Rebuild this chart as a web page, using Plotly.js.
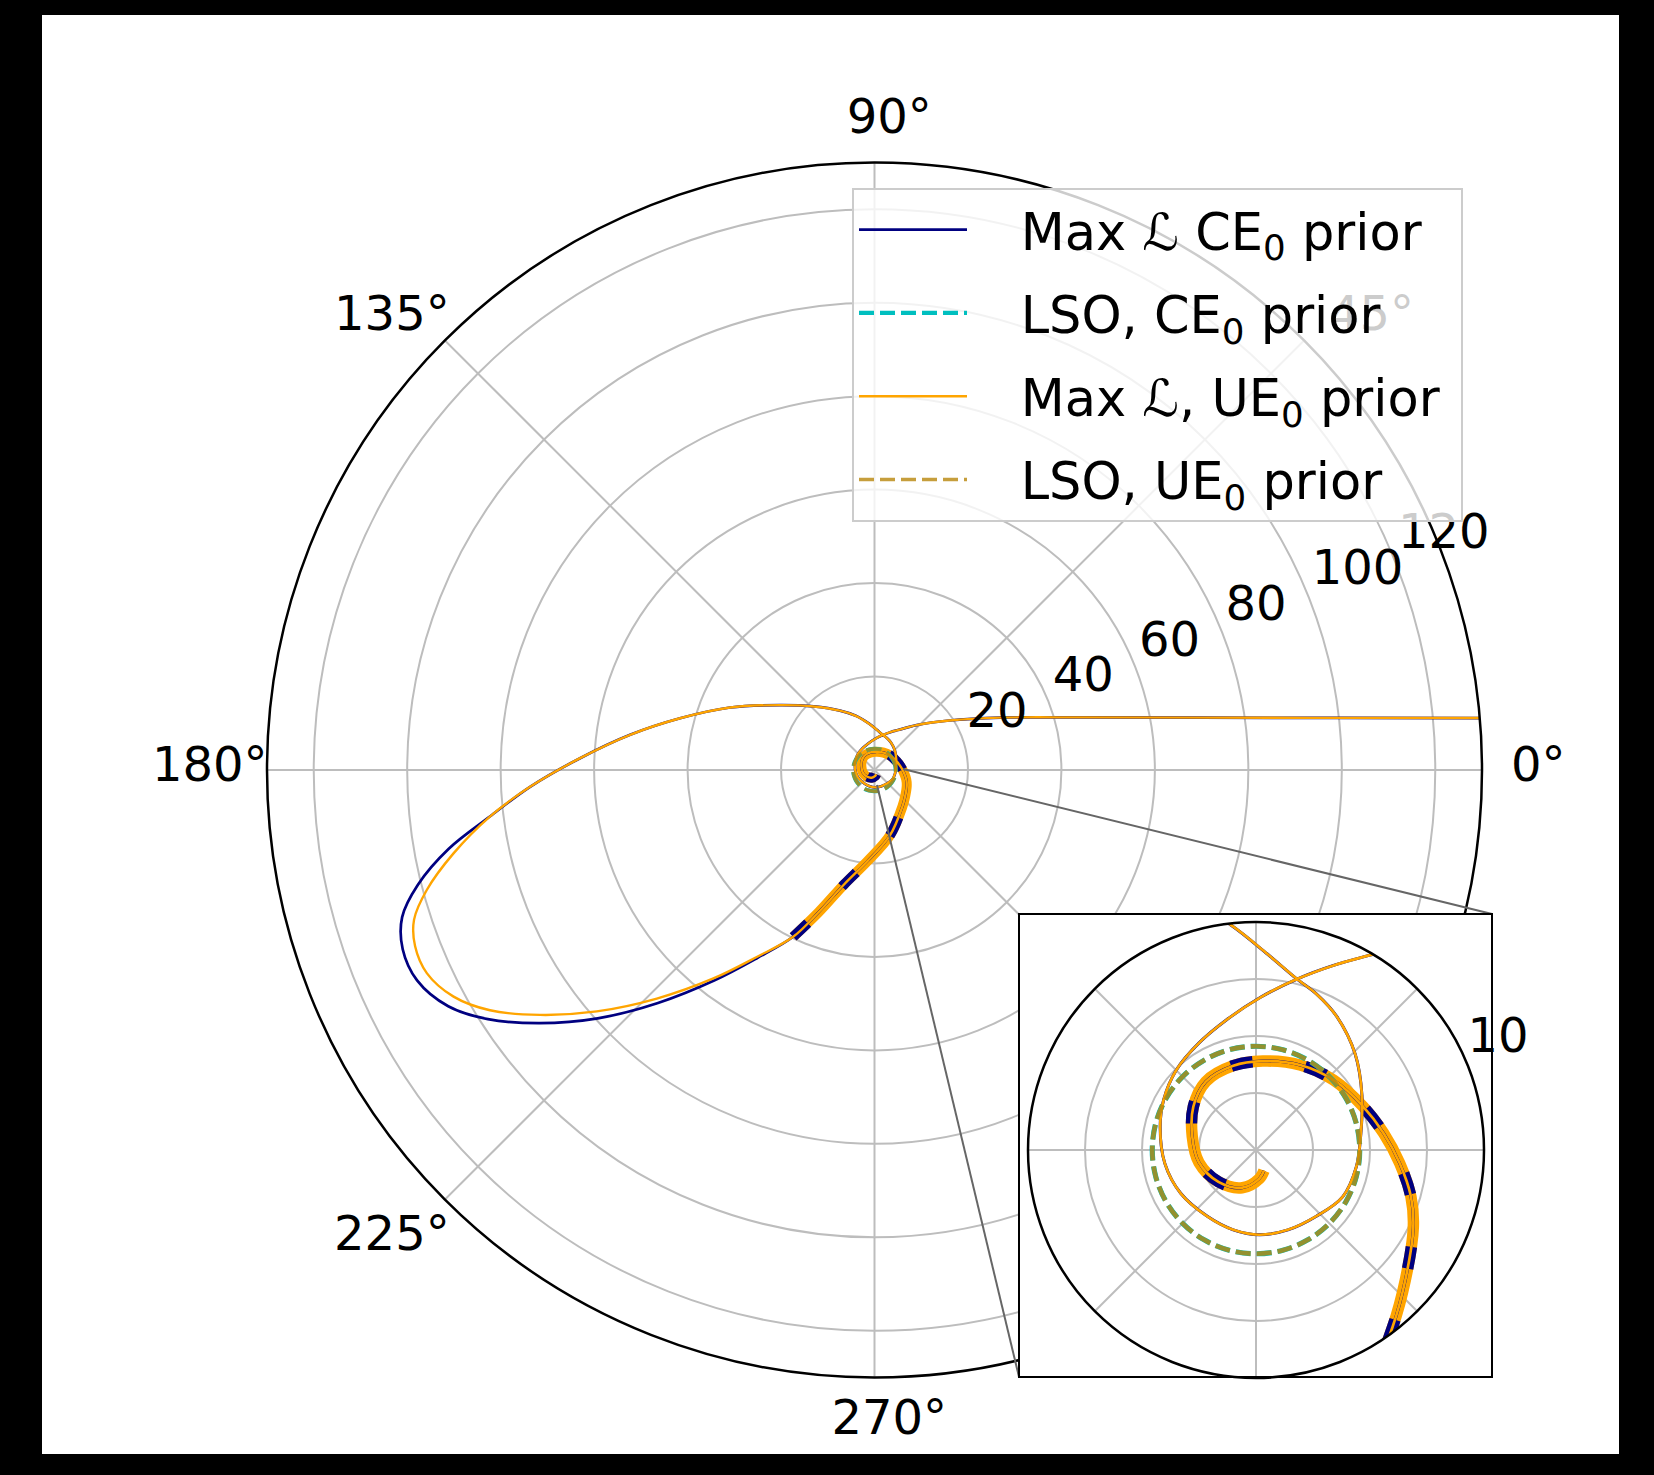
<!DOCTYPE html>
<html>
<head>
<meta charset="utf-8">
<script src="https://cdn.plot.ly/plotly-3.0.1.min.js"></script>
<style>
html,body{margin:0;padding:0;background:#000;}
#chart{width:1654px;height:1475px;}
</style>
</head>
<body>
<div id="chart"></div>
<script>
// ---------------- data (theta in degrees, r in chart units) ----------------
// incoming leg, zoom-whirl around the centre and start of the big excursion (shared by both fits)
const approachTheta = [4.83, 6.36, 9.09, 14.04, 22.53, 33.52, 46.85, 59.67, 67.23, 76.5, 88.29, 102.85, 118.0, 135.0, 151.5, 166.6, 188.5, 209.9, 233.4, 254.1, 272.3, 291.8, 312.4, 331.6, 350.3, 8.65, 27.3, 44.0, 58.75, 68.85, 76.5, 86.67, 96.63, 109.0, 120.2, 133.7, 145.5, 156.6, 165.1, 171.8, 177.7, 182.8];
const approachR = [132.0, 100.62, 70.89, 46.38, 29.23, 19.19, 13.16, 9.90, 8.78, 7.71, 6.70, 5.85, 5.32, 4.95, 4.61, 4.32, 4.04, 3.81, 3.61, 3.64, 3.72, 3.77, 3.93, 4.32, 4.46, 4.65, 5.23, 6.05, 6.84, 7.34, 7.71, 8.61, 9.97, 12.27, 14.70, 18.81, 24.52, 33.68, 43.06, 52.84, 63.05, 73.79];

// lower-left part of the big loop, UE0 prior fit
const loopUETheta = [186.9, 191.2, 195.0, 198.0, 201.0, 204.4, 208.3, 212.0, 216.2, 221.0, 226.4, 232.3, 237.8];
const loopUER = [82.91, 91.84, 99.19, 103.6, 105.3, 105.2, 102.3, 97.03, 88.73, 78.75, 67.55, 56.38, 47.28];

// lower-left part of the big loop, CE0 prior fit
const loopCETheta = [186.9, 190.5, 194.1, 197.3, 200.8, 204.7, 209.0, 212.8, 217.1, 221.9, 227.1, 232.7, 238.05];
const loopCER = [82.91, 92.71, 100.74, 105.87, 108.0, 107.74, 104.29, 98.43, 89.82, 79.58, 68.06, 56.64, 47.40];

// final plunge (drawn thick)
const plungeTheta = [244.0, 248.5, 255.1, 265.6, 283.3, 307.7, 319.0, 333.8, 343.2, 354.7, 7.4, 22.0, 42.1, 62.6, 85.6, 105.1, 126.3, 145.4, 167.9, 192.4, 220.3, 250.0, 276.8, 291.3];
const plungeR = [39.71, 32.78, 25.35, 19.56, 14.38, 9.80, 8.68, 7.69, 7.10, 6.33, 5.65, 5.07, 4.58, 4.20, 3.91, 3.83, 3.72, 3.34, 2.86, 2.56, 2.16, 1.76, 1.26, 0.97];

// last stable orbits
const lsoTheta = [0, 15, 30, 45, 60, 75, 90, 105, 120, 135, 150, 165, 180, 195, 210, 225, 240, 255, 270, 285, 300, 315, 330, 345, 360];
const lsoCER = [4.55, 4.55, 4.55, 4.55, 4.55, 4.55, 4.55, 4.55, 4.55, 4.55, 4.55, 4.55, 4.55, 4.55, 4.55, 4.55, 4.55, 4.55, 4.55, 4.55, 4.55, 4.55, 4.55, 4.55, 4.55];
const lsoUER = [4.55, 4.55, 4.55, 4.55, 4.55, 4.55, 4.55, 4.55, 4.55, 4.55, 4.55, 4.55, 4.55, 4.55, 4.55, 4.55, 4.55, 4.55, 4.55, 4.55, 4.55, 4.55, 4.55, 4.55, 4.55];

// axes
const angTicks = [0, 45, 90, 135, 180, 225, 270, 315];
const angLabels = ['0°', '45°', '90°', '135°', '180°', '225°', '270°', ''];
const radTicks = [20, 40, 60, 80, 100, 120];
const radLabels = ['20', '40', '60', '80', '100', '120'];
const insetRadTicks = [2.5, 5, 7.5, 10];
const insetRadLabels = ['', '', '', '10'];

const seriesNames = ['Max ℒ CE<sub>0</sub> prior', 'LSO, CE<sub>0</sub> prior', 'Max ℒ, UE<sub>0</sub> prior', 'LSO, UE<sub>0</sub> prior'];

// ---------------- build traces ----------------
const ceTheta = approachTheta.concat(loopCETheta, plungeTheta);
const ceR = approachR.concat(loopCER, plungeR);
const ueTheta = approachTheta.concat(loopUETheta, plungeTheta);
const ueR = approachR.concat(loopUER, plungeR);

const NAVY = '#000080', CYAN = '#00bfbf', ORANGE = '#ffa500', GOLD = '#b8860b';
const FONT = 'DejaVu Sans, Verdana, sans-serif';
const PAD = '\u00a0\u00a0\u00a0';
const TAIL = '\u00a0';
// labels are right-aligned by Plotly; pad the short ones so all read left-aligned like the original
const radTickText = radLabels.map(t => t.length < 3 ? t + '\u00a0\u00a0' : t);

function makeSet(sub, main) {
  const thin = main ? 2.4 : 2.7;
  const thick = main ? 10 : 11.5;
  const lsoW = main ? 3.6 : 4.6;
  const dashT = main ? '20px,50px' : '22px,53px';
  const common = {type: 'scatterpolar', mode: 'lines', subplot: sub, hoverinfo: 'skip'};
  return [
    Object.assign({}, common, {r: plungeR, theta: plungeTheta, showlegend: false,
      line: {color: ORANGE, width: thick, shape: 'spline'}}),
    Object.assign({}, common, {r: plungeR, theta: plungeTheta, showlegend: false,
      line: {color: NAVY, width: thick, dash: dashT, shape: 'spline'}}),
    Object.assign({}, common, {r: ceR, theta: ceTheta, name: PAD + seriesNames[0] + TAIL, showlegend: main, legendgroup: 'a',
      line: {color: NAVY, width: thin + 0.3, shape: 'spline'}}),
    Object.assign({}, common, {r: lsoCER, theta: lsoTheta, name: PAD + seriesNames[1] + TAIL, showlegend: main, legendgroup: 'b',
      line: {color: CYAN, width: lsoW + 0.6, dash: '15px,6px', shape: 'spline'}}),
    Object.assign({}, common, {r: ueR, theta: ueTheta, name: PAD + seriesNames[2] + TAIL, showlegend: main, legendgroup: 'c',
      line: {color: ORANGE, width: thin, shape: 'spline'}}),
    Object.assign({}, common, {r: lsoUER, theta: lsoTheta, name: PAD + seriesNames[3] + TAIL, showlegend: main, legendgroup: 'd',
      opacity: 0.8, line: {color: GOLD, width: lsoW, dash: '15px,6px', shape: 'spline'}})
  ];
}

const coverTrace = {type: 'scatterpolar', mode: 'markers', subplot: 'polar2', r: [0], theta: [0],
  showlegend: false, hoverinfo: 'skip', cliponaxis: false,
  marker: {symbol: 'square', size: 474, color: '#ffffff', line: {width: 0}}};

// anchor traces so the label-only overlay subplots get drawn
function anchor(sub) {
  return {type: 'scatterpolar', mode: 'markers', subplot: sub, r: [0], theta: [0],
    showlegend: false, hoverinfo: 'skip', marker: {size: 1, opacity: 0}};
}

const data = makeSet('polar', true).concat([coverTrace], makeSet('polar3', false),
  [anchor('polar4'), anchor('polar5'), anchor('polar6')]);

const W = 1654, H = 1475;
const px = v => v / W;
const py = v => 1 - v / H;

const GRID = '#bdbdbd';
const TICKFONT = {size: 48, family: FONT, color: '#000'};

// main plot: centre (874.5, 770) px, 4.673 px per unit; inset: centre (1256, 1150) px, 22.8 px per unit
const layout = {
  width: W, height: H,
  margin: {l: 0, r: 0, t: 0, b: 0},
  paper_bgcolor: '#000000',
  font: {family: FONT, color: '#000', size: 48},
  showlegend: true,
  hovermode: false,
  polar: {
    domain: {x: [px(267), px(1482)], y: [py(1377.5), py(162.5)]},
    bgcolor: '#ffffff',
    radialaxis: {range: [0, 130], tickmode: 'array', tickvals: radTicks, angle: 22.5,
      showticklabels: false, showline: false, ticks: '', gridcolor: GRID, gridwidth: 2},
    angularaxis: {tickmode: 'array', tickvals: angTicks, direction: 'counterclockwise', rotation: 0,
      showticklabels: false, showline: true, linecolor: '#000', linewidth: 2.5, ticks: '', gridcolor: GRID, gridwidth: 2}
  },
  polar2: {
    domain: {x: [px(1028), px(1484)], y: [py(1378), py(922)]},
    bgcolor: 'rgba(0,0,0,0)',
    radialaxis: {visible: false, range: [0, 1]},
    angularaxis: {visible: false}
  },
  polar3: {
    domain: {x: [px(1028), px(1484)], y: [py(1378), py(922)]},
    bgcolor: '#ffffff',
    radialaxis: {range: [0, 10], tickmode: 'array', tickvals: insetRadTicks, angle: 22.5,
      showticklabels: false, showline: false, ticks: '', gridcolor: GRID, gridwidth: 2},
    angularaxis: {tickmode: 'array', tickvals: angTicks, showticklabels: false, direction: 'counterclockwise', rotation: 0,
      showline: true, linecolor: '#000', linewidth: 2.5, ticks: '', gridcolor: GRID, gridwidth: 2}
  },
  // radial tick labels of the main plot: same scale (4.673 px per unit), set beside the rings as in the original
  polar4: {
    domain: {x: [px(421.7), px(1547.7)], y: [py(1333.3), py(207.3)]},
    bgcolor: 'rgba(0,0,0,0)',
    radialaxis: {range: [0, 120.5], tickmode: 'array', tickvals: radTicks, ticktext: radTickText, angle: 22.5, tickangle: 22.5,
      side: 'counterclockwise', showgrid: false, showline: false, ticks: '', tickfont: TICKFONT},
    angularaxis: {visible: false}
  },
  // radial tick label of the inset
  polar5: {
    domain: {x: [px(955), px(1557)], y: [py(1451), py(849)]},
    bgcolor: 'rgba(0,0,0,0)',
    radialaxis: {range: [-3.0, 10.2], tickmode: 'array', tickvals: insetRadTicks, ticktext: insetRadLabels, angle: 17.5,
      tickangle: 17.5, side: 'counterclockwise', showgrid: false, showline: false, ticks: '', tickfont: TICKFONT},
    angularaxis: {visible: false}
  },
  // angle labels of the main plot, centred as in the original
  polar6: {
    domain: {x: [px(268.1), px(1510.5)], y: [py(1385.6), py(143.2)]},
    bgcolor: 'rgba(0,0,0,0)',
    radialaxis: {visible: false, range: [0, 1]},
    angularaxis: {tickmode: 'array', tickvals: angTicks, ticktext: angLabels, direction: 'counterclockwise', rotation: 0,
      showline: false, showgrid: false, ticks: '', tickfont: TICKFONT}
  },
  legend: {
    x: px(852), y: py(188), xanchor: 'left', yanchor: 'top',
    bgcolor: 'rgba(255,255,255,0.8)', bordercolor: '#cccccc', borderwidth: 2,
    font: {family: FONT, size: 51, color: '#000'},
    traceorder: 'grouped', tracegroupgap: 14, itemwidth: 108
  },
  shapes: [
    {type: 'rect', xref: 'paper', yref: 'paper', x0: px(42), x1: px(1619), y0: py(1454), y1: py(15),
      fillcolor: '#ffffff', line: {width: 0}, layer: 'below'},
    {type: 'line', xref: 'paper', yref: 'paper', x0: px(903), y0: py(769), x1: px(1492), y1: py(914),
      line: {color: '#666666', width: 2}, layer: 'above'},
    {type: 'line', xref: 'paper', yref: 'paper', x0: px(877), y0: py(785), x1: px(1019), y1: py(1377),
      line: {color: '#666666', width: 2}, layer: 'above'},
    {type: 'rect', xref: 'paper', yref: 'paper', x0: px(1019), x1: px(1492), y0: py(1377), y1: py(914),
      line: {color: '#000000', width: 2}, fillcolor: 'rgba(0,0,0,0)', layer: 'above'}
  ]
};

Plotly.newPlot('chart', data, layout, {displayModeBar: false, staticPlot: true});
</script>
</body>
</html>
